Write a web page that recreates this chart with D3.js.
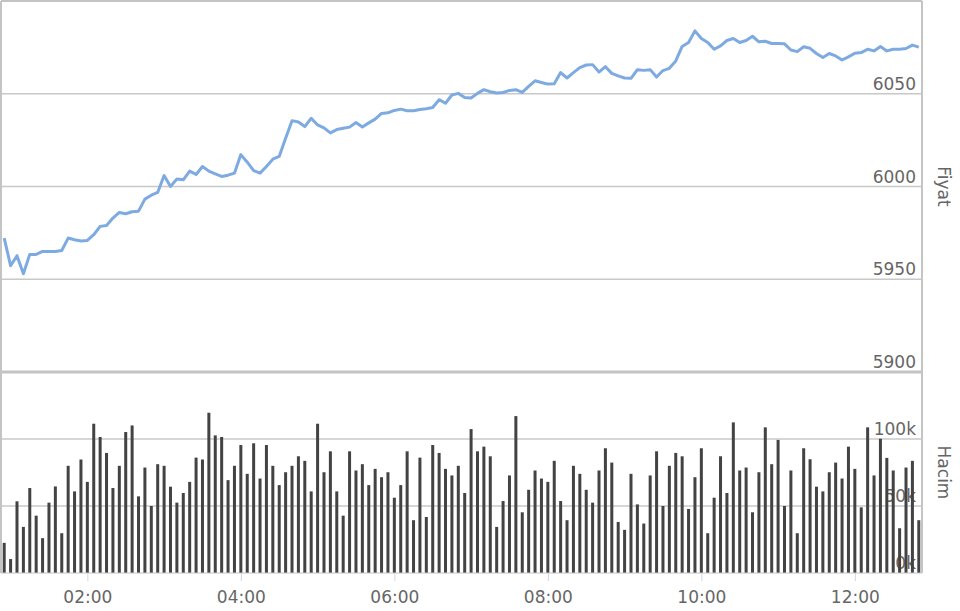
<!DOCTYPE html>
<html><head><meta charset="utf-8">
<script src="https://cdn.jsdelivr.net/npm/d3@7"></script>
<style>html,body{margin:0;padding:0;background:#fff;}svg{display:block;font-family:"DejaVu Sans",Verdana,sans-serif;}</style>
</head><body>
<svg id="c" width="960" height="611"></svg>
<script>
// Data: 5-minute intervals from 00:55 to 12:50
const startTime = "00:55";
const stepMinutes = 5;
const price = [
5972.2,5957.3,5962.7,5953,5963.4,5963.4,5965,5965,5965,5965.5,
5972.2,5971.3,5970.6,5970.9,5974,5978.5,5979,5983,5986,5985.3,
5986.4,5986.7,5993.2,5995.3,5996.8,6005.9,6000,6004,6003.6,6008.3,
6006.5,6010.8,6008.3,6006.8,6005.4,6006.1,6007.2,6017.2,6013.1,6008.6,
6007.2,6010.8,6014.7,6016.2,6026,6035.5,6034.8,6032.3,6036.8,6033.2,
6031.6,6028.9,6030.7,6031.4,6032,6034.5,6032.1,6034.3,6036.3,6039.4,
6039.7,6041,6041.7,6040.8,6040.8,6041.5,6041.9,6042.6,6046.8,6044.9,
6049.3,6050.2,6048,6047.7,6050.2,6052.2,6051.1,6050.4,6050.7,6051.8,
6052.2,6050.7,6054,6057,6056.1,6055.2,6055.4,6061.4,6058.5,6061.4,
6064.1,6065.5,6065.7,6061.7,6064.6,6061,6059.6,6058.5,6058.3,6063,
6062.6,6063,6059,6062.5,6063.7,6067.7,6075.5,6077.6,6083.9,6079.8,
6077.6,6074,6075.8,6078.7,6079.8,6077.6,6078.7,6081,6078,6078.3,
6077.1,6077.1,6076.9,6073.6,6072.7,6075.3,6074.5,6071.7,6069.5,6071.7,
6070.4,6068.2,6069.9,6071.8,6072.2,6074,6073.1,6075.5,6073.1,6074,
6074,6074.4,6076.2,6075.1
];
const volume = [
22500,10400,53500,34400,63400,42800,26000,52500,64600,29700,
80000,60900,84700,68000,111400,101500,89600,63400,80000,105200,
110100,57200,78700,50000,81200,80000,64400,52500,59700,68000,
86100,84700,119600,102700,101500,69300,80000,95500,74000,96800,
70500,95500,80000,65600,75200,80000,87100,83700,60900,111400,
75200,90800,60900,42800,90800,76500,81200,65600,77700,71500,
75200,56200,65600,90800,39400,86100,41800,95500,89600,77700,
72800,80000,59700,107400,90800,94300,87100,34400,53700,72800,
117100,45300,62100,76500,70500,68000,83700,53700,39400,80000,
74000,62100,52500,76500,93100,82400,38100,32200,74000,51200,
36900,72800,90800,50000,80000,89600,87100,47800,71500,93100,
29700,56200,87100,59700,112400,76500,78700,45300,75200,108700,
81200,99300,50000,76500,29700,93100,84900,64400,60900,75200,
82400,70500,94300,77700,49000,108700,72800,100200,85900,76500,
33400,78700,83700,39400
];
const priceTicks = [5900, 5950, 6000, 6050];
const volumeTicks = [0, 50000, 100000];
const timeTicks = ["02:00","04:00","06:00","08:00","10:00","12:00"];
const priceTitle = "Fiyat";
const volumeTitle = "Hacim";

const parse = s => { const [h,m] = s.split(":").map(Number); return new Date(Date.UTC(2020,0,1,h,m)); };
const t0 = parse(startTime);
const times = price.map((_, i) => new Date(t0.getTime() + i * stepMinutes * 60000));
const rows = times.map((t, i) => ({t, p: price[i], v: volume[i]}));

const svg = d3.select("#c");
const L = 1, R = 922;
const pTop = 1, pBot = 372, vTop = 372, vBot = 573;
const halfStep = stepMinutes / 2 * 60000;
const x = d3.scaleUtc().domain([new Date(times[0].getTime() - halfStep), new Date(times[times.length-1].getTime() + halfStep)]).range([L, R]);
const yP = d3.scaleLinear().domain([5900, 6100]).range([pBot, pTop]);
const yV = d3.scaleLinear().domain([0, 150000]).range([vBot, vTop]);

const gridCol = "#c8c8c8", textCol = "#666666";

// price grid
svg.append("g").selectAll("line").data(priceTicks.filter(d => d !== 5900)).join("line")
  .attr("x1", L).attr("x2", R).attr("y1", d => yP(d)).attr("y2", d => yP(d))
  .attr("stroke", gridCol).attr("stroke-width", 1.5);
// volume grid
svg.append("g").selectAll("line").data(volumeTicks.filter(d => d !== 0)).join("line")
  .attr("x1", L).attr("x2", R).attr("y1", d => yV(d)).attr("y2", d => yV(d))
  .attr("stroke", gridCol).attr("stroke-width", 1.5);

// volume labels (under bars)
svg.append("g").selectAll("text").data(volumeTicks).join("text")
  .attr("x", 916).attr("y", d => yV(d) - 4).attr("text-anchor", "end")
  .attr("font-size", 17).attr("fill", textCol).text(d => (d/1000) + "k");

// bars
svg.append("g").selectAll("rect").data(rows).join("rect")
  .attr("x", d => x(d.t) - 1.5).attr("width", 3)
  .attr("y", d => yV(d.v)).attr("height", d => yV(0) - yV(d.v))
  .attr("fill", "#434343");

// price labels
svg.append("g").selectAll("text").data(priceTicks).join("text")
  .attr("x", 916).attr("y", d => yP(d) - 4).attr("text-anchor", "end")
  .attr("font-size", 17).attr("fill", textCol).text(d => d);

// price line
svg.append("path").datum(rows)
  .attr("d", d3.line().x(d => x(d.t)).y(d => yP(d.p)))
  .attr("fill", "none").attr("stroke", "#7eaae2").attr("stroke-width", 3)
  .attr("stroke-linejoin", "round");

// borders
const border = "#c4c4c4";
svg.append("line").attr("x1", L).attr("x2", R).attr("y1", pTop).attr("y2", pTop).attr("stroke", border).attr("stroke-width", 2);
svg.append("line").attr("x1", L).attr("x2", R).attr("y1", pBot).attr("y2", pBot).attr("stroke", border).attr("stroke-width", 3);
svg.append("line").attr("x1", L).attr("x2", R).attr("y1", vBot).attr("y2", vBot).attr("stroke", border).attr("stroke-width", 1);
svg.append("line").attr("x1", L).attr("x2", L).attr("y1", pTop).attr("y2", vBot).attr("stroke", border).attr("stroke-width", 2);
svg.append("line").attr("x1", R).attr("x2", R).attr("y1", pTop).attr("y2", vBot).attr("stroke", border).attr("stroke-width", 2);

// x axis
const xAxis = d3.axisBottom(x).tickValues(timeTicks.map(parse)).tickFormat(d3.utcFormat("%H:%M")).tickSize(8).tickPadding(10);
const gx = svg.append("g").attr("transform", `translate(0,${vBot})`).call(xAxis);
gx.select(".domain").remove();
gx.selectAll(".tick line").attr("stroke", "#ccd6eb").attr("stroke-width", 1);
gx.selectAll(".tick text").attr("font-size", 17).attr("fill", textCol).attr("font-family", "DejaVu Sans, Verdana, sans-serif");

// axis titles
svg.append("text").attr("transform", `translate(938,${(pTop+pBot)/2}) rotate(90)`).attr("text-anchor", "middle")
  .attr("font-size", 17).attr("fill", textCol).text(priceTitle);
svg.append("text").attr("transform", `translate(938,${(vTop+vBot)/2}) rotate(90)`).attr("text-anchor", "middle")
  .attr("font-size", 17).attr("fill", textCol).text(volumeTitle);
</script>
</body></html>
